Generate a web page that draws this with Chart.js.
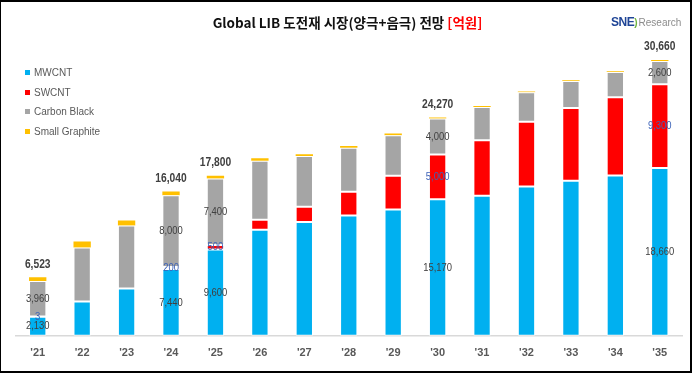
<!DOCTYPE html>
<html>
<head>
<meta charset="utf-8">
<script src="https://cdn.jsdelivr.net/npm/chart.js@4"></script>
<style>
    body { margin: 0; background: #fff; }
    #wrap { position: relative; width: 695px; height: 375px; overflow: hidden; }
    #wrap canvas { position: absolute; left: 0; top: 0; }
    .frame { position: absolute; left: 0; top: 0; width: 689px; height: 369px; border: 2px solid #000; border-left-width: 1px; box-sizing: content-box; pointer-events: none; }
    .title { position: absolute; left: 0; top: 12px; width: 695px; text-align: center; font: bold 13.5px "Noto Sans CJK KR", sans-serif; color: #111; }
    .title span { color: #ff0000; }
    .logo { position: absolute; left: 611px; top: 15px; font: 10px "Liberation Sans", Arial, sans-serif; color: #8c8c8c; white-space: nowrap; }
    .logo b { color: #1f4596; font-size: 12px; letter-spacing: -0.5px; }
    .logo i { color: #6fb43f; font-style: normal; font-weight: bold; margin: 0 1px 0 0; }
    #legend { position: absolute; left: 25px; top: 64px; font: 10px "Liberation Sans", Arial, sans-serif; color: #595959; }
    #legend div { height: 19.5px; line-height: 17px; white-space: nowrap; }
    #legend i { display: inline-block; width: 5px; height: 5px; margin-right: 4px; vertical-align: 1px; }
</style>
</head>
<body>
<div id="wrap">
    <canvas id="chart" width="695" height="375"></canvas>
    <div class="title">Global LIB 도전재 시장(양극+음극) 전망 <span>[억원]</span></div>
    <div class="logo"><b>SNE</b><i>)</i>Research</div>
    <div id="legend"></div>
    <div class="frame"></div>
</div>
<script>
// years on the x axis
const years = ["'21", "'22", "'23", "'24", "'25", "'26", "'27", "'28", "'29", "'30", "'31", "'32", "'33", "'34", "'35"];

// market size by material, 억원 (stack order bottom -> top)
const mwcnt = [2130, 3800, 5270, 7440, 9600, 11800, 12640, 13370, 14030, 15170, 15580, 16610, 17240, 17830, 18660];
const swcnt = [3, 0, 0, 200, 500, 1100, 1720, 2650, 3760, 5000, 6150, 7180, 8100, 8690, 9300];
const carbonBlack = [3960, 6030, 7000, 8000, 7400, 6550, 5640, 4900, 4500, 4000, 3720, 3280, 2980, 2800, 2600];
const smallGraphite = [430, 660, 550, 400, 300, 300, 190, 180, 200, 100, 100, 100, 100, 100, 100];

// only these years carry value labels in the original
const labeledYears = ["'21", "'24", "'25", "'30", "'35"];

const series = [
    { label: 'MWCNT', data: mwcnt, color: '#00b0f0', text: '#404040' },
    { label: 'SWCNT', data: swcnt, color: '#ff0000', text: '#3d63b8' },
    { label: 'Carbon Black', data: carbonBlack, color: '#a5a5a5', text: '#404040' },
    { label: 'Small Graphite', data: smallGraphite, color: '#ffc000', text: null }
];

const totals = years.map((_, i) => series.reduce((s, d) => s + d.data[i], 0));
const numFont = '"Liberation Sans", Arial, sans-serif';
const fmt = v => v.toLocaleString('en-US');

// html legend, top-left
const legendEl = document.getElementById('legend');
series.forEach(s => {
    const row = document.createElement('div');
    row.innerHTML = '<i style="background:' + s.color + '"></i>' + s.label;
    legendEl.appendChild(row);
});

// no narrow font installed, so squeeze the numbers a bit by hand
function narrowText(ctx, txt, x, y, font) {
    ctx.save();
    ctx.translate(x, y);
    ctx.scale(0.82, 1);
    ctx.font = font;
    ctx.fillText(txt, 0, 0);
    ctx.restore();
}

const valueLabels = {
    id: 'valueLabels',
    afterDatasetsDraw(chart) {
        const ctx = chart.ctx;
        ctx.save();
        ctx.textAlign = 'center';
        ctx.textBaseline = 'middle';
        years.forEach((yr, i) => {
            if (!labeledYears.includes(yr)) return;
            series.forEach((s, di) => {
                if (!s.text) return;
                const bar = chart.getDatasetMeta(di).data[i];
                ctx.fillStyle = s.text;
                narrowText(ctx, fmt(s.data[i]), bar.x, (bar.y + bar.base) / 2, '11.5px ' + numFont);
            });
            const top = chart.getDatasetMeta(series.length - 1).data[i];
            ctx.fillStyle = '#404040';
            narrowText(ctx, fmt(totals[i]), top.x, top.y - 13, 'bold 12.5px ' + numFont);
        });
        ctx.restore();
    }
};

new Chart(document.getElementById('chart'), {
    type: 'bar',
    data: {
        labels: years,
        datasets: series.map(s => ({
            label: s.label,
            data: s.data,
            backgroundColor: s.color,
            borderColor: 'rgba(255,255,255,0.85)',
            borderWidth: s.text ? 1 : 0,
            borderSkipped: false,
            categoryPercentage: 1,
            barPercentage: 0.39
        }))
    },
    options: {
        responsive: false,
        animation: false,
        layout: { padding: { left: 15.5, right: 13, top: 21, bottom: 12 } },
        plugins: { legend: { display: false }, tooltip: { enabled: false } },
        scales: {
            x: {
                stacked: true,
                grid: { display: false },
                border: { display: true, color: '#d9d9d9', width: 1.5 },
                ticks: { color: '#595959', padding: 3, font: { family: numFont, size: 11, weight: 'bold' } }
            },
            y: { stacked: true, display: false, min: 0, max: 35000 }
        }
    },
    plugins: [valueLabels]
});
</script>
</body>
</html>
